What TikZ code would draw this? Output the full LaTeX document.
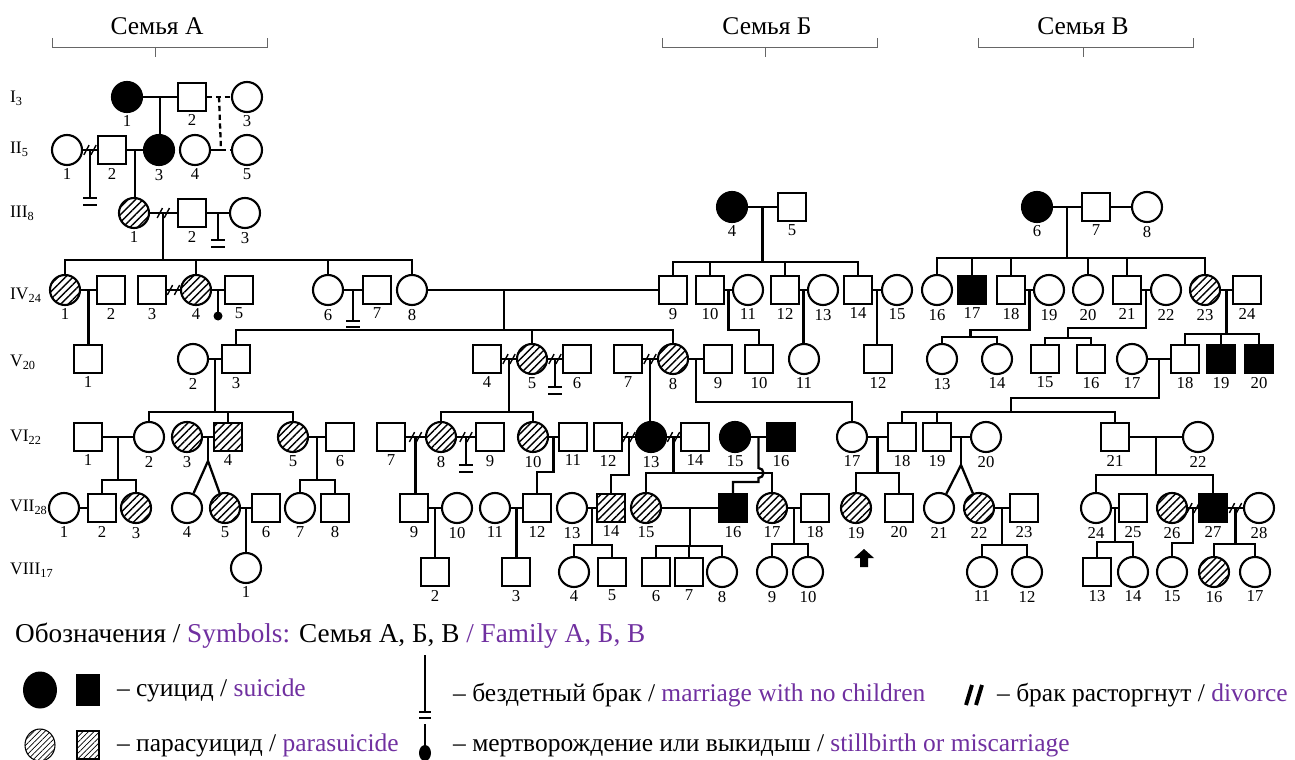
\documentclass[tikz,border=0pt]{standalone}
\usepackage{fontspec}
\setmainfont{Liberation Serif}
\usetikzlibrary{patterns.meta,shapes.geometric}
\definecolor{vio}{RGB}{112,48,160}
\tikzset{
  person/.style={draw,line width=1.2pt,inner sep=0pt,label distance=2.5pt},
  fem/.style={person,circle,minimum size=0.6cm},
  mal/.style={person,rectangle,minimum size=0.56cm},
  suic/.style={fill=black},
  para/.style={pattern={Lines[angle=45,distance=3pt,line width=0.8pt]}},
  every label/.style={font=\fontsize{9.5}{10}\selectfont,inner sep=1pt},
  gen/.style={anchor=west,inner sep=0pt,font=\fontsize{10}{12}\selectfont},
  fam/.style={font=\fontsize{14.5}{16}\selectfont},
  legtxt/.style={anchor=west,inner sep=0pt,font=\fontsize{14.5}{16}\selectfont},
  brace/.style={line width=0.5pt,black!60},
  divorce/.pic={\draw[line width=0.8pt] (-3.5pt,-2.8pt) -- (-0.5pt,2.8pt) (0.5pt,-2.8pt) -- (3.5pt,2.8pt);},
}
\begin{document}
\begin{tikzpicture}[line width=1.3pt]
			\begin{scope}[x=0.02cm,y=-0.02cm]
				\useasboundingbox (0,0) rectangle (1295,760);

				% families
				\node[fam] (hA) at (157,26) {Семья А};
				\node[fam] (hB) at (767,26) {Семья Б};
				\node[fam] (hV) at (1083,26) {Семья В};
				\draw[brace] (52,38) -- (52,47) -- (267,47) -- (267,38) (155,47) -- (155,57);
				\draw[brace] (662,38) -- (662,47) -- (877,47) -- (877,38) (765,47) -- (765,57);
				\draw[brace] (978,38) -- (978,47) -- (1193,47) -- (1193,38) (1083,47) -- (1083,57);

				% generations
				\node[gen] (gI) at (9,98) {I\textsubscript{3}};
				\node[gen] (gII) at (9,149) {II\textsubscript{5}};
				\node[gen] (gIII) at (9,213) {III\textsubscript{8}};
				\node[gen] (gIV) at (9,295) {IV\textsubscript{24}};
				\node[gen] (gV) at (9,362) {V\textsubscript{20}};
				\node[gen] (gVI) at (9,437) {VI\textsubscript{22}};
				\node[gen] (gVII) at (9,507) {VII\textsubscript{28}};
				\node[gen] (gVIII) at (9,570) {VIII\textsubscript{17}};

				% I
				\node[fem,suic,label=below:1] (p1-1) at (127,97) {};
				\node[mal,label=below:2] (p1-2) at (192,97) {};
				\node[fem,label=below:3] (p1-3) at (247,97) {};

				% II
				\node[fem,label=below:1] (p2-1) at (67,150) {};
				\node[mal,label=below:2] (p2-2) at (112,150) {};
				\node[fem,suic,label=below:3] (p2-3) at (159,150) {};
				\node[fem,label=below:4] (p2-4) at (195,150) {};
				\node[fem,label=below:5] (p2-5) at (247,150) {};

				% III
				\node[fem,para,label=below:1] (p3-1) at (134,213) {};
				\node[mal,label=below:2] (p3-2) at (192,213) {};
				\node[fem,label=below:3] (p3-3) at (245,213) {};
				\node[fem,suic,label=below:4] (p3-4) at (732,207) {};
				\node[mal,label=below:5] (p3-5) at (792,207) {};
				\node[fem,suic,label=below:6] (p3-6) at (1037,207) {};
				\node[mal,label=below:7] (p3-7) at (1096,207) {};
				\node[fem,label=below:8] (p3-8) at (1147,207) {};

				% IV
				\node[fem,para,label=below:1] (p4-1) at (65,290) {};
				\node[mal,label=below:2] (p4-2) at (111,290) {};
				\node[mal,label=below:3] (p4-3) at (152,290) {};
				\node[fem,para,label=below:4] (p4-4) at (196,290) {};
				\node[mal,label=below:5] (p4-5) at (239,290) {};
				\node[fem,label=below:6] (p4-6) at (328,290) {};
				\node[mal,label=below:7] (p4-7) at (377,290) {};
				\node[fem,label=below:8] (p4-8) at (412,290) {};
				\node[mal,label=below:9] (p4-9) at (673,290) {};
				\node[mal,label=below:10] (p4-10) at (710,290) {};
				\node[fem,label=below:11] (p4-11) at (748,290) {};
				\node[mal,label=below:12] (p4-12) at (785,290) {};
				\node[fem,label=below:13] (p4-13) at (823,290) {};
				\node[mal,label=below:14] (p4-14) at (858,290) {};
				\node[fem,label=below:15] (p4-15) at (897,290) {};
				\node[fem,label=below:16] (p4-16) at (937,290) {};
				\node[mal,suic,label=below:17] (p4-17) at (972,290) {};
				\node[mal,label=below:18] (p4-18) at (1011,290) {};
				\node[fem,label=below:19] (p4-19) at (1049,290) {};
				\node[fem,label=below:20] (p4-20) at (1088,290) {};
				\node[mal,label=below:21] (p4-21) at (1127,290) {};
				\node[fem,label=below:22] (p4-22) at (1166,290) {};
				\node[fem,para,label=below:23] (p4-23) at (1205,290) {};
				\node[mal,label=below:24] (p4-24) at (1247,290) {};

				% V
				\node[mal,label=below:1] (p5-1) at (88,359) {};
				\node[fem,label=below:2] (p5-2) at (193,359) {};
				\node[mal,label=below:3] (p5-3) at (236,359) {};
				\node[mal,label=below:4] (p5-4) at (487,359) {};
				\node[fem,para,label=below:5] (p5-5) at (532,359) {};
				\node[mal,label=below:6] (p5-6) at (577,359) {};
				\node[mal,label=below:7] (p5-7) at (628,359) {};
				\node[fem,para,label=below:8] (p5-8) at (673,359) {};
				\node[mal,label=below:9] (p5-9) at (718,359) {};
				\node[mal,label=below:10] (p5-10) at (759,359) {};
				\node[fem,label=below:11] (p5-11) at (804,359) {};
				\node[mal,label=below:12] (p5-12) at (878,359) {};
				\node[fem,label=below:13] (p5-13) at (942,359) {};
				\node[fem,label=below:14] (p5-14) at (997,359) {};
				\node[mal,label=below:15] (p5-15) at (1045,359) {};
				\node[mal,label=below:16] (p5-16) at (1091,359) {};
				\node[fem,label=below:17] (p5-17) at (1132,359) {};
				\node[mal,label=below:18] (p5-18) at (1185,359) {};
				\node[mal,suic,label=below:19] (p5-19) at (1221,359) {};
				\node[mal,suic,label=below:20] (p5-20) at (1259,359) {};

				% VI
				\node[mal,label=below:1] (p6-1) at (88,437) {};
				\node[fem,label=below:2] (p6-2) at (149,437) {};
				\node[fem,para,label=below:3] (p6-3) at (187,437) {};
				\node[mal,para,label=below:4] (p6-4) at (228,437) {};
				\node[fem,para,label=below:5] (p6-5) at (293,437) {};
				\node[mal,label=below:6] (p6-6) at (340,437) {};
				\node[mal,label=below:7] (p6-7) at (391,437) {};
				\node[fem,para,label=below:8] (p6-8) at (441,437) {};
				\node[mal,label=below:9] (p6-9) at (490,437) {};
				\node[fem,para,label=below:10] (p6-10) at (533,437) {};
				\node[mal,label=below:11] (p6-11) at (573,437) {};
				\node[mal,label=below:12] (p6-12) at (608,437) {};
				\node[fem,suic,label=below:13] (p6-13) at (651,437) {};
				\node[mal,label=below:14] (p6-14) at (695,437) {};
				\node[fem,suic,label=below:15] (p6-15) at (735,437) {};
				\node[mal,suic,label=below:16] (p6-16) at (781,437) {};
				\node[fem,label=below:17] (p6-17) at (852,437) {};
				\node[mal,label=below:18] (p6-18) at (902,437) {};
				\node[mal,label=below:19] (p6-19) at (937,437) {};
				\node[fem,label=below:20] (p6-20) at (986,437) {};
				\node[mal,label=below:21] (p6-21) at (1115,437) {};
				\node[fem,label=below:22] (p6-22) at (1198,437) {};

				% VII
				\node[fem,label=below:1] (p7-1) at (64,508) {};
				\node[mal,label=below:2] (p7-2) at (102,508) {};
				\node[fem,para,label=below:3] (p7-3) at (136,508) {};
				\node[fem,label=below:4] (p7-4) at (187,508) {};
				\node[fem,para,label=below:5] (p7-5) at (225,508) {};
				\node[mal,label=below:6] (p7-6) at (266,508) {};
				\node[fem,label=below:7] (p7-7) at (300,508) {};
				\node[mal,label=below:8] (p7-8) at (335,508) {};
				\node[mal,label=below:9] (p7-9) at (414,508) {};
				\node[fem,label=below:10] (p7-10) at (457,508) {};
				\node[fem,label=below:11] (p7-11) at (495,508) {};
				\node[mal,label=below:12] (p7-12) at (537,508) {};
				\node[fem,label=below:13] (p7-13) at (572,508) {};
				\node[mal,para,label=below:14] (p7-14) at (611,508) {};
				\node[fem,para,label=below:15] (p7-15) at (646,508) {};
				\node[mal,suic,label=below:16] (p7-16) at (733,508) {};
				\node[fem,para,label=below:17] (p7-17) at (772,508) {};
				\node[mal,label=below:18] (p7-18) at (815,508) {};
				\node[fem,para,label=below:19] (p7-19) at (856,508) {};
				\node[mal,label=below:20] (p7-20) at (899,508) {};
				\node[fem,label=below:21] (p7-21) at (939,508) {};
				\node[fem,para,label=below:22] (p7-22) at (979,508) {};
				\node[mal,label=below:23] (p7-23) at (1024,508) {};
				\node[fem,label=below:24] (p7-24) at (1096,508) {};
				\node[mal,label=below:25] (p7-25) at (1133,508) {};
				\node[fem,para,label=below:26] (p7-26) at (1172,508) {};
				\node[mal,suic,label=below:27] (p7-27) at (1213,508) {};
				\node[fem,label=below:28] (p7-28) at (1259,508) {};

				% VIII
				\node[fem,label=below:1] (p8-1) at (246,568) {};
				\node[mal,label=below:2] (p8-2) at (435,572) {};
				\node[mal,label=below:3] (p8-3) at (516,572) {};
				\node[fem,label=below:4] (p8-4) at (574,572) {};
				\node[mal,label=below:5] (p8-5) at (612,572) {};
				\node[mal,label=below:6] (p8-6) at (656,572) {};
				\node[mal,label=below:7] (p8-7) at (689,572) {};
				\node[fem,label=below:8] (p8-8) at (722,572) {};
				\node[fem,label=below:9] (p8-9) at (772,572) {};
				\node[fem,label=below:10] (p8-10) at (808,572) {};
				\node[fem,label=below:11] (p8-11) at (982,572) {};
				\node[fem,label=below:12] (p8-12) at (1027,572) {};
				\node[mal,label=below:13] (p8-13) at (1097,572) {};
				\node[fem,label=below:14] (p8-14) at (1133,572) {};
				\node[fem,label=below:15] (p8-15) at (1172,572) {};
				\node[fem,para,label=below:16] (p8-16) at (1214,572) {};
				\node[fem,label=below:17] (p8-17) at (1255,572) {};

				% I -> II
				\draw (p1-1) -- (p1-2) coordinate[midway] (u1-1);
				\draw (u1-1) -- (u1-1 |- p2-3.north);
				\draw[dash pattern=on 3pt off 2pt] (p1-2) -- (p1-3) coordinate[midway] (u1-2);
				\path (p2-4) -- (p2-5) coordinate[midway] (u2-4);
				\draw (p2-4) -- (u2-4);
				\draw[dash pattern=on 3pt off 2pt] (u2-4) -- (p2-5);
				\draw[dash pattern=on 3pt off 2pt] (u1-2) -- (u2-4);

				% II -> III
				\draw (p2-1) -- (p2-2) coordinate[midway] (u2-1);
				\pic at (u2-1) {divorce};
				\draw (u2-1) -- ++(0,48) ++(-7,0) -- ++(14,0) ++(-14,7) -- ++(14,0);
				\draw (p2-2) -- (p2-3) coordinate[midway] (u2-2);
				\draw (u2-2) -- (u2-2 |- p3-1.north);

				% III -> IV
				\draw (p3-1) -- (p3-2) coordinate[midway] (u3-1);
				\pic at (u3-1) {divorce};
				\draw (u3-1) -- ++(0,47) coordinate (s4-1);
				\draw (p4-1.north) |- (s4-1) -| (p4-8.north);
				\draw (p4-4.north) -- (p4-4.north |- s4-1);
				\draw (p4-6.north) -- (p4-6.north |- s4-1);
				\draw (p3-2) -- (p3-3) coordinate[midway] (u3-2);
				\draw (u3-2) -- ++(0,27) ++(-7,0) -- ++(14,0) ++(-14,7) -- ++(14,0);
				\draw (p3-4) -- (p3-5) coordinate[midway] (u3-4);
				\draw (u3-4) -- ++(0,55) coordinate (s4-9);
				\draw (p4-9.north) |- (s4-9) -| (p4-14.north);
				\draw (p4-10.north) -- (p4-10.north |- s4-9);
				\draw (p4-12.north) -- (p4-12.north |- s4-9);
				\draw (p3-6) -- (p3-7) coordinate[midway] (u3-6);
				\draw (p3-7) -- (p3-8);
				\draw (u3-6) -- ++(0,51) coordinate (s4-16);
				\draw (p4-16.north) |- (s4-16) -| (p4-23.north);
				\draw (p4-17.north) -- (p4-17.north |- s4-16);
				\draw (p4-18.north) -- (p4-18.north |- s4-16);
				\draw (p4-20.north) -- (p4-20.north |- s4-16);
				\draw (p4-21.north) -- (p4-21.north |- s4-16);

				% IV -> V
				\draw (p4-1) -- (p4-2) coordinate[midway] (u4-1);
				\draw (u4-1) -- (u4-1 |- p5-1.north);
				\draw (p4-3) -- (p4-4) coordinate[midway] (u4-3);
				\pic at (u4-3) {divorce};
				\draw (p4-4) -- (p4-5) coordinate[midway] (u4-4);
				\draw (u4-4) -- ++(0,26) coordinate (sb);
				\fill (sb) circle[radius=4.5];
				\draw (p4-6) -- (p4-7) coordinate[midway] (u4-6);
				\draw (u4-6) -- ++(0,31) ++(-7,0) -- ++(14,0) ++(-14,6) -- ++(14,0);
				\draw (p4-8) -- (p4-9) coordinate[pos=0.33] (u4-8);
				\draw (u4-8) -- ++(0,40) coordinate (s5-3);
				\draw (p5-3.north) |- (s5-3) -| (p5-8.north);
				\draw (p5-5.north) -- (p5-5.north |- s5-3);
				\draw (p4-10) -- (p4-11) coordinate[midway] (u4-10);
				\draw (u4-10) -- ++(0,40) -| (p5-10.north);
				\draw (p4-12) -- (p4-13) coordinate[midway] (u4-12);
				\draw (u4-12) -- (u4-12 |- p5-11.north);
				\draw (p4-14) -- (p4-15) coordinate[midway] (u4-14);
				\draw (u4-14) -- (u4-14 |- p5-12.north);
				\draw (p4-18) -- (p4-19) coordinate[midway] (u4-18);
				\draw (u4-18) -- ++(0,40) -| ++(-59,7) coordinate (s5-13);
				\draw (p5-13.north) |- (s5-13) -| (p5-14.north);
				\draw (p4-21) -- (p4-22) coordinate[midway] (u4-21);
				\draw (u4-21) -- ++(0,38) -| ++(-78,10) coordinate (s5-15);
				\draw (p5-15.north) |- (s5-15) -| (p5-16.north);
				\draw (p4-23) -- (p4-24) coordinate[midway] (u4-23);
				\draw (u4-23) -- ++(0,44) coordinate (s5-18);
				\draw (p5-18.north) |- (s5-18) -| (p5-20.north);
				\draw (p5-19.north) -- (p5-19.north |- s5-18);

				% V -> VI
				\draw (p5-2) -- (p5-3) coordinate[midway] (u5-2);
				\draw (u5-2) -- ++(0,53) coordinate (s6-2);
				\draw (p6-2.north) |- (s6-2) -| (p6-5.north);
				\draw (p6-4.north) -- (p6-4.north |- s6-2);
				\draw (p5-4) -- (p5-5) coordinate[midway] (u5-4);
				\pic at (u5-4) {divorce};
				\draw (u5-4) -- ++(0,53) coordinate (s6-8);
				\draw (p6-8.north) |- (s6-8) -| (p6-10.north);
				\draw (p5-5) -- (p5-6) coordinate[midway] (u5-5);
				\pic at (u5-5) {divorce};
				\draw (u5-5) -- ++(0,28) ++(-7,0) -- ++(14,0) ++(-14,7) -- ++(14,0);
				\draw (p5-7) -- (p5-8) coordinate[midway] (u5-7);
				\pic at (u5-7) {divorce};
				\draw (u5-7) -- (u5-7 |- p6-13.north);
				\draw (p5-8) -- (p5-9) coordinate[midway] (u5-8);
				\draw (u5-8) -- ++(0,43) -| (p6-17.north);
				\draw (p5-17) -- (p5-18) coordinate[midway] (u5-17);
				\draw (u5-17) -- ++(0,39) -| ++(-148,14) coordinate (s6-18);
				\draw (p6-18.north) |- (s6-18) -| (p6-21.north);
				\draw (p6-19.north) -- (p6-19.north |- s6-18);

				% VI -> VII
				\draw (p6-1) -- (p6-2) coordinate[midway] (u6-1);
				\draw (u6-1) -- ++(0,43) coordinate (s7-2);
				\draw (p7-2.north) |- (s7-2) -| (p7-3.north);
				\draw (p7-1) -- (p7-2);
				\draw (p6-3) -- (p6-4) coordinate[midway] (u6-3);
				\draw (u6-3) -- ++(0,24) coordinate (t6-3);
				\draw (p7-4) -- (t6-3) -- (p7-5);
				\draw (p6-5) -- (p6-6) coordinate[midway] (u6-5);
				\draw (u6-5) -- ++(0,43) coordinate (s7-7);
				\draw (p7-7.north) |- (s7-7) -| (p7-8.north);
				\draw (p6-7) -- (p6-8) coordinate[midway] (u6-7);
				\pic at (u6-7) {divorce};
				\draw (u6-7) -- (u6-7 |- p7-9.north);
				\draw (p6-8) -- (p6-9) coordinate[midway] (u6-8);
				\pic at (u6-8) {divorce};
				\draw (u6-8) -- ++(0,28) ++(-7,0) -- ++(14,0) ++(-14,7) -- ++(14,0);
				\draw (p6-10) -- (p6-11) coordinate[midway] (u6-10);
				\draw (u6-10) -- ++(0,35) -| (p7-12.north);
				\draw (p6-12) -- (p6-13) coordinate[midway] (u6-12);
				\pic at (u6-12) {divorce};
				\draw (u6-12) -- ++(0,38) -| (p7-14.north);
				\draw (p6-13) -- (p6-14) coordinate[midway] (u6-13);
				\pic at (u6-13) {divorce};
				\draw (u6-13) -- ++(0,36) coordinate (s7-15);
				\draw (p7-15.north) |- (s7-15) -| (p7-17.north);
				\draw (p6-15) -- (p6-16) coordinate[midway] (u6-15);
				\draw (u6-15) -- ++(0,31) arc[start angle=-90,end angle=90,radius=5] -- ++(0,4) -| (p7-16.north);
				\draw (p6-17) -- (p6-18) coordinate[midway] (u6-17);
				\draw (u6-17) -- ++(0,36) coordinate (s7-19);
				\draw (p7-19.north) |- (s7-19) -| (p7-20.north);
				\draw (p6-19) -- (p6-20) coordinate[midway] (u6-19);
				\draw (u6-19) -- ++(0,28) coordinate (t6-19);
				\draw (p7-21) -- (t6-19) -- (p7-22);
				\draw (p6-21) -- (p6-22) coordinate[midway] (u6-21);
				\draw (u6-21) -- ++(0,38) coordinate (s7-24);
				\draw (p7-24.north) |- (s7-24) -| (p7-27.north);

				% VII -> VIII
				\draw (p7-5) -- (p7-6) coordinate[midway] (u7-5);
				\draw (u7-5) -- (u7-5 |- p8-1.north);
				\draw (p7-9) -- (p7-10) coordinate[midway] (u7-9);
				\draw (u7-9) -- (u7-9 |- p8-2.north);
				\draw (p7-11) -- (p7-12) coordinate[midway] (u7-11);
				\draw (u7-11) -- (u7-11 |- p8-3.north);
				\draw (p7-13) -- (p7-14) coordinate[midway] (u7-13);
				\draw (u7-13) -- ++(0,37) coordinate (s8-4);
				\draw (p8-4.north) |- (s8-4) -| (p8-5.north);
				\draw (p7-15) -- (p7-16) coordinate[midway] (u7-15);
				\draw (u7-15) -- ++(0,38) coordinate (s8-6);
				\draw (p8-6.north) |- (s8-6) -| (p8-8.north);
				\draw (p8-7.north) -- (p8-7.north |- s8-6);
				\draw (p7-17) -- (p7-18) coordinate[midway] (u7-17);
				\draw (u7-17) -- ++(0,36) coordinate (s8-9);
				\draw (p8-9.north) |- (s8-9) -| (p8-10.north);
				\draw (p7-22) -- (p7-23) coordinate[midway] (u7-22);
				\draw (u7-22) -- ++(0,37) coordinate (s8-11);
				\draw (p8-11.north) |- (s8-11) -| (p8-12.north);
				\draw (p7-24) -- (p7-25) coordinate[midway] (u7-24);
				\draw (u7-24) -- ++(0,34) coordinate (s8-13);
				\draw (p8-13.north) |- (s8-13) -| (p8-14.north);
				\draw (p7-26) -- (p7-27) coordinate[midway] (u7-26);
				\pic at (u7-26) {divorce};
				\draw (u7-26) -- ++(0,35) -| (p8-15.north);
				\draw (p7-27) -- (p7-28) coordinate[midway] (u7-27);
				\pic at (u7-27) {divorce};
				\draw (u7-27) -- ++(0,36) coordinate (s8-16);
				\draw (p8-16.north) |- (s8-16) -| (p8-17.north);

				% proband
				\fill (864,549) -- (874,558) -- (868,558) -- (868,567) -- (860,567) -- (860,558) -- (854,558) -- cycle;

				% legend
				\node[legtxt,font=\fontsize{15.5}{17}\selectfont] (leg) at (14,636) {Обозначения / \textcolor{vio}{Symbols:} Семья А, Б, В \textcolor{vio}{/ Family А, Б, В}};
				\node[ellipse,fill=black,inner sep=0pt,minimum width=0.68cm,minimum height=0.74cm] (lsf) at (40,690) {};
				\node[fill=black,inner sep=0pt,minimum width=0.48cm,minimum height=0.64cm] (lsm) at (88,690) {};
				\node[legtxt] (lst) at (116,690) {– суицид / \textcolor{vio}{suicide}};
				\node[ellipse,draw,line width=0.6pt,inner sep=0pt,minimum width=0.6cm,minimum height=0.64cm,pattern={Lines[angle=45,distance=2.2pt,line width=0.4pt]}] (lpf) at (40,745) {};
				\node[draw,line width=0.6pt,inner sep=0pt,minimum width=0.44cm,minimum height=0.56cm,pattern={Lines[angle=45,distance=2.2pt,line width=0.4pt]}] (lpm) at (88,745) {};
				\node[legtxt] (lpt) at (116,745) {– парасуицид / \textcolor{vio}{parasuicide}};
				\draw[line width=0.6pt] (425,655) -- (425,712);
				\draw[line width=1pt] (419,712) -- (431,712) (419,718) -- (431,718);
				\node[legtxt] (lnt) at (452,695) {– бездетный брак / \textcolor{vio}{marriage with no children}};
				\draw (425,724) -- (425,748);
				\fill (425,753) ellipse[x radius=6,y radius=8];
				\node[legtxt] (lbt) at (452,745) {– мертворождение или выкидыш / \textcolor{vio}{stillbirth or miscarriage}};
				\draw[line width=2.2pt] (966,705) -- (972,685) (976,705) -- (982,685);
				\node[legtxt] (ldt) at (996,695) {– брак расторгнут / \textcolor{vio}{divorce}};
			\end{scope}
		\end{tikzpicture}
\end{document}
